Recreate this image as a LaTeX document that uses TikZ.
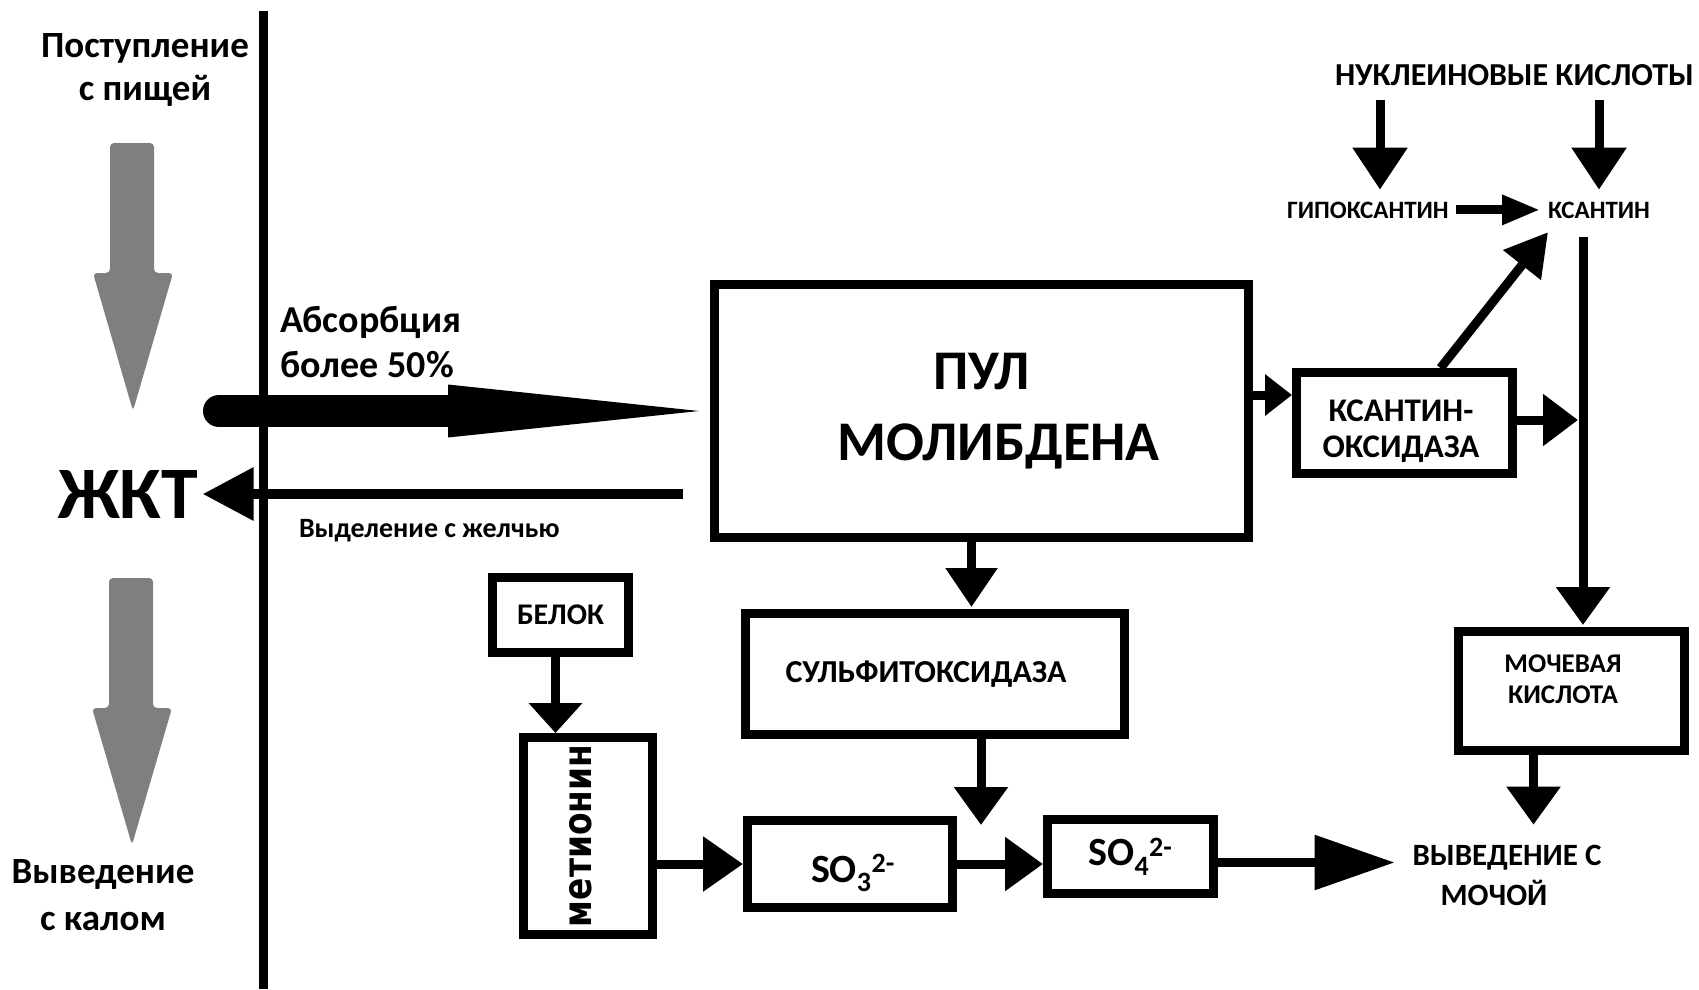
\documentclass[tikz,border=0pt]{standalone}
\usepackage{fontspec}
\usepackage{graphicx}
\setmainfont{Carlito}
\newfontfamily\metfont{DejaVu Sans}
\usetikzlibrary{arrows.meta, calc}
\definecolor{gutGray}{RGB}{127,127,127}

\tikzset{
  txt/.style={inner sep=0pt, outer sep=0pt, font=\bfseries},
  box/.style={draw, line width=9pt, inner sep=0pt, align=center},
  flow/.style={line width=9pt, -{Triangle[length=38pt, width=52pt]}}
}

\begin{document}
\begin{tikzpicture}[x=1pt, y=-1pt]
    \useasboundingbox (0,0) rectangle (1699,989);
    % gut side
    \draw[line width=9pt] (263,11) -- (263,989);
    \node[txt, align=center, anchor=base, font=\bfseries\fontsize{37}{43}\selectfont] (intake) at (145,100) {Поступление\\с пищей};
    \node[txt, anchor=base, font=\bfseries\fontsize{74}{80}\selectfont] (gut) at (128,518) {ЖКТ};
    \node[txt, align=center, anchor=base, font=\bfseries\fontsize{37}{47}\selectfont] (feces) at (103,930) {Выведение\\с калом};
    \fill[gutGray, rounded corners=4pt] (110,143) -- (154,143) -- (154,273) -- (173,273) -- (133,411) -- (93,273) -- (110,273) -- cycle;
    \fill[gutGray, rounded corners=4pt] (109,578) -- (153,578) -- (153,708) -- (172,708) -- (132,845) -- (92,708) -- (109,708) -- cycle;
    \node[txt, align=left, anchor=base west, font=\bfseries\fontsize{38}{45}\selectfont] (absorb) at (280,377) {Абсорбция\\более 50\%};
    \node[txt, anchor=base west, font=\bfseries\fontsize{28}{32}\selectfont] (bileTxt) at (299,537) {Выделение с желчью};

    % boxes
    \node[box, minimum width=534pt, minimum height=253pt, font=\bfseries\fontsize{56}{71}\selectfont] (pool) at (981.5,411) {ПУЛ\\\hspace*{34pt}МОЛИБДЕНА};
    \node[box, minimum width=216pt, minimum height=101pt] (xo) at (1404.5,423) {};
    \node[txt, align=center, anchor=base, font=\bfseries\fontsize{33}{36}\selectfont] (xoTxt) at (1401,457) {КСАНТИН-\\ОКСИДАЗА};
    \node[box, minimum width=379pt, minimum height=121pt, font=\bfseries\fontsize{32}{36}\selectfont] (suox) at (935,674) {СУЛЬФИТОКСИДАЗА\hspace*{18pt}};
    \node[box, minimum width=136pt, minimum height=75pt, font=\bfseries\fontsize{30}{34}\selectfont] (prot) at (560.5,615) {БЕЛОК};
    \node[box, minimum width=129pt, minimum height=197pt] (met) at (588,836) {};
    \node[txt, rotate=90] (metTxt) at (581,836) {\resizebox{182pt}{22pt}{\metfont\bfseries метионин}};
    \node[box, minimum width=205pt, minimum height=87pt] (so3) at (850,864) {};
    \node[txt, anchor=base west, font=\bfseries\fontsize{40}{44}\selectfont] (so3Txt) at (811,882) {SO\textsubscript{3}\textsuperscript{2-}};
    \node[box, minimum width=166pt, minimum height=74pt, font=\bfseries\fontsize{40}{44}\selectfont] (so4) at (1130.5,856.5) {SO\textsubscript{4}\textsuperscript{2-}};
    \node[box, minimum width=226pt, minimum height=119pt] (urate) at (1571.5,691) {};
    \node[txt, align=center, anchor=base, font=\bfseries\fontsize{27}{31}\selectfont] (urateTxt) at (1563,703) {МОЧЕВАЯ\\КИСЛОТА};
    \node[txt, align=center, anchor=base, font=\bfseries\fontsize{31}{40}\selectfont] (urine) at (1507,905) {ВЫВЕДЕНИЕ С\\МОЧОЙ\hspace*{26pt}};

    % purines
    \node[txt, anchor=base west, font=\bfseries\fontsize{32}{36}\selectfont] (nucl) at (1335,85) {НУКЛЕИНОВЫЕ КИСЛОТЫ};
    \node[txt, anchor=base west, font=\bfseries\fontsize{25}{28}\selectfont] (hypo) at (1287,218) {ГИПОКСАНТИН};
    \node[txt, anchor=base west, font=\bfseries\fontsize{25}{28}\selectfont] (xan) at (1548,218) {КСАНТИН};
    \coordinate (nuclL) at (1380,100);
    \coordinate (nuclR) at (1599,100);
    \coordinate (xtop) at (1583,237);
    \coordinate (absStart) at (219,411);
    \coordinate (join) at (981,825);

    % connectors
    \draw[line width=32pt, line cap=round, -{Triangle[length=251pt, width=53pt, line width=0pt]}, shorten >=11pt] (absStart) -- (pool.west);
    \draw[line width=10pt, -{Triangle[length=51pt, width=51pt]}, shorten <=27pt, shorten >=5pt] ([yshift=-83pt]pool.west) -- ([yshift=-83pt]pool.west -| gut.east);
    \draw[flow, -{Triangle[length=42pt, width=53pt]}] (nuclL) -- ([yshift=12pt]nuclL |- hypo.north);
    \draw[flow, -{Triangle[length=42pt, width=53pt]}] (nuclR) -- ([yshift=12pt]nuclR |- xan.north);
    \draw[flow, -{Triangle[length=38pt, width=28pt]}, shorten <=7pt, shorten >=8pt] (hypo) -- (xan);
    \draw[flow, -{Triangle[length=42pt, width=46pt]}] ([xshift=36pt]xo.north) -- ([yshift=-14pt]xan.south west);
    \draw[flow, shorten >=2pt] (xtop) -- (xtop |- urate.north);
    \draw[flow, -{Triangle[length=35pt, width=50pt]}, shorten >=5pt] ([yshift=3pt]xo.east) -- ([yshift=3pt]xo.east -| xtop);
    \draw[flow, -{Triangle[length=27pt, width=40pt]}] ([yshift=28pt]xo.west -| pool.east) -- ([yshift=28pt]xo.west);
    \draw[flow, -{Triangle[length=39pt, width=50pt]}, shorten >=2pt] ([xshift=-10pt]pool.south) -- ([xshift=-10pt]pool.south |- suox.north);
    \draw[flow] (suox.south -| join) -- (join);
    \draw[flow, -{Triangle[length=30pt, width=52pt]}] ([xshift=-5pt]prot.south) -- ([xshift=-5pt]prot.south |- met.north);
    \draw[flow, -{Triangle[length=40pt, width=53pt]}] (met.east |- so3.west) -- (so3.west);
    \draw[flow] (so3.east) -- (so3.east -| so4.west);
    \draw[flow, -{Triangle[length=80pt, width=53pt]}, shorten >=18pt] ([yshift=-6pt]so4.east) -- ([yshift=-6pt]so4.east -| urine.west);
    \draw[flow, shorten >=20pt] ([xshift=-38pt]urate.south) -- ([xshift=-38pt]urate.south |- urine.north);
\end{tikzpicture}
\end{document}
